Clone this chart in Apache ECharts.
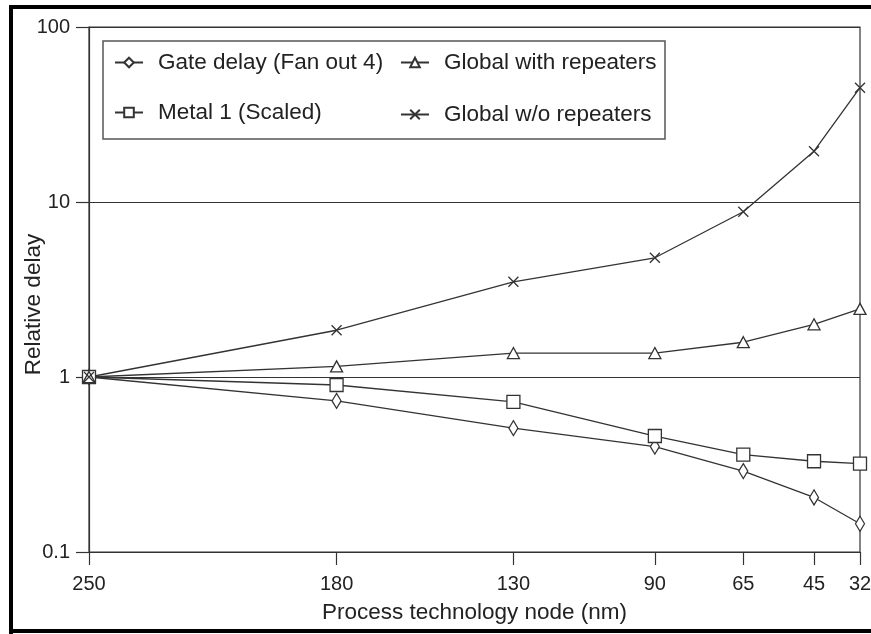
<!DOCTYPE html>
<html>
<head>
<meta charset="utf-8">
<script src="https://cdn.jsdelivr.net/npm/echarts@6/dist/echarts.min.js"></script>
<style>
html,body{margin:0;padding:0;background:#fff;}
#chart{width:871px;height:634px;}
</style>
</head>
<body>
<div id="chart"></div>
<script>
// ---- data ----
var nodes = [250, 180, 130, 90, 65, 45, 32];
var gateDelay = [1, 0.73, 0.51, 0.40, 0.29, 0.205, 0.145];
var metal1 = [1, 0.90, 0.72, 0.46, 0.36, 0.33, 0.32];
var globalWithRep = [1, 1.15, 1.37, 1.37, 1.58, 2.0, 2.45];
var globalWithoutRep = [1, 1.85, 3.5, 4.8, 8.8, 19.5, 45];
var seriesNames = ['Gate delay (Fan out 4)', 'Metal 1 (Scaled)', 'Global with repeaters', 'Global w/o repeaters'];
var xTitle = 'Process technology node (nm)';
var yTitle = 'Relative delay';

function pairs(vals) { return nodes.map(function (n, i) { return [n, vals[i]]; }); }

var lineCol = '#333';
var FONT = 'Liberation Sans, Arial, sans-serif';
var crossPath = 'path://M0,0L10,10M10,0L0,10';

function mkSeries(name, vals, symbol, size) {
  return {
    name: name, type: 'line', data: pairs(vals),
    symbol: symbol, symbolSize: size,
    showAllSymbol: true,
    lineStyle: { color: lineCol, width: 1.3 },
    itemStyle: { color: '#fff', borderColor: lineCol, borderWidth: 1.3 },
    emphasis: { disabled: true },
    animation: false
  };
}

var series = [
  mkSeries(seriesNames[0], gateDelay, 'diamond', [9, 15]),
  mkSeries(seriesNames[1], metal1, 'rect', 13),
  mkSeries(seriesNames[2], globalWithRep, 'triangle', [12, 11]),
  mkSeries(seriesNames[3], globalWithoutRep, crossPath, 10)
];

function mkLegend(name, left, top) {
  return {
    data: [name], left: left, top: top, orient: 'horizontal',
    itemWidth: 28, itemHeight: 12, selectedMode: false,
    textStyle: { fontFamily: FONT, fontSize: 22.5, color: '#222', padding: [0, 0, 0, 10] }
  };
}

var chart = echarts.init(document.getElementById('chart'), null, { renderer: 'canvas' });
chart.setOption({
  backgroundColor: '#fff',
  animation: false,
  grid: { left: 89, right: 11, top: 27, bottom: 82, show: true, containLabel: false, outerBoundsMode: 'none',
    borderColor: lineCol, borderWidth: 1.2, backgroundColor: 'transparent' },
  xAxis: {
    type: 'value', inverse: true, min: 32, max: 250,
    name: xTitle, nameLocation: 'middle', nameGap: 49, nameMoveOverlap: false,
    nameTextStyle: { fontFamily: FONT, fontSize: 22.5, color: '#222' },
    axisLine: { show: true, lineStyle: { color: lineCol, width: 1.2 } },
    axisTick: { show: true, length: 13, customValues: nodes, lineStyle: { color: lineCol, width: 1.2 } },
    axisLabel: { customValues: nodes, margin: 22, fontFamily: FONT, fontSize: 20, color: '#222' },
    splitLine: { show: false }
  },
  yAxis: {
    type: 'log', logBase: 10, min: 0.1, max: 100,
    name: yTitle, nameLocation: 'middle', nameGap: 44, nameMoveOverlap: false,
    nameTextStyle: { fontFamily: FONT, fontSize: 22.5, color: '#222', padding: [0, 30, 0, 0] },
    axisLine: { show: true, lineStyle: { color: lineCol, width: 1.2 } },
    axisTick: { show: true, length: 13, lineStyle: { color: lineCol, width: 1.2 } },
    axisLabel: { margin: 19, fontFamily: FONT, fontSize: 20, color: '#222' },
    splitLine: { show: true, lineStyle: { color: lineCol, width: 1.2 } },
    minorTick: { show: false }
  },
  legend: [
    mkLegend(seriesNames[0], 109, 46),
    mkLegend(seriesNames[1], 109, 96),
    mkLegend(seriesNames[2], 395, 46),
    mkLegend(seriesNames[3], 395, 98)
  ],
  graphic: [
    { type: 'rect', shape: { x: 103, y: 41, width: 562, height: 98 }, style: { fill: 'transparent', stroke: '#555', lineWidth: 1.5 }, silent: true },
    { type: 'rect', shape: { x: 9, y: 5, width: 862, height: 4 }, style: { fill: '#000' }, silent: true },
    { type: 'rect', shape: { x: 9, y: 5, width: 4, height: 629 }, style: { fill: '#000' }, silent: true },
    { type: 'rect', shape: { x: 9, y: 629, width: 862, height: 4 }, style: { fill: '#000' }, silent: true }
  ],
  series: series
});
</script>
</body>
</html>
